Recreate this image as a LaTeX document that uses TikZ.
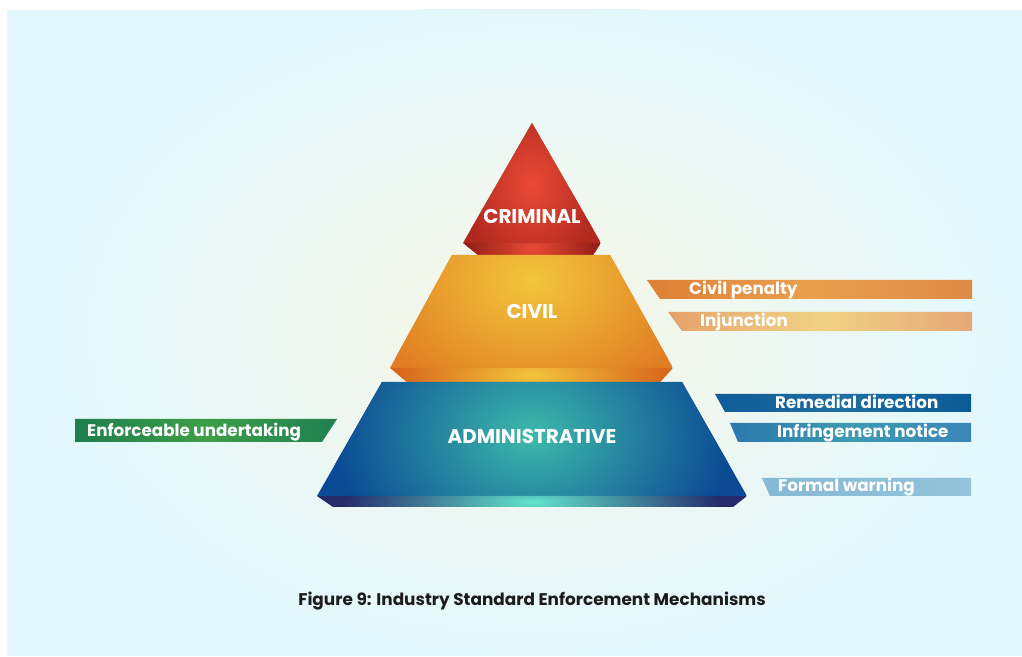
\documentclass[tikz,border=0pt]{standalone}
\usepackage{fontspec}
\setmainfont{Poppins}
\definecolor{bgcyan}{HTML}{E3F8FD}
\definecolor{bgcream}{HTML}{F8F6E6}
\definecolor{captext}{HTML}{1C1C1C}
\definecolor{crimedge}{HTML}{B0281E}
\definecolor{crimglow}{HTML}{EA4A36}
\definecolor{crimband}{HTML}{951F18}
\definecolor{civedge}{HTML}{E07C22}
\definecolor{civglow}{HTML}{F2C63C}
\definecolor{civband}{HTML}{D8661C}
\definecolor{admedge}{HTML}{0B4A94}
\definecolor{admglow}{HTML}{3DBAAA}
\definecolor{admband}{HTML}{252A6A}
\definecolor{admbandglow}{HTML}{62E6CC}
\begin{document}
\begin{tikzpicture}[x=0.03cm,y=-0.03cm,
    level/.style={font=\bfseries\fontsize{17}{19}\selectfont,text=white,anchor=base},
    tabtext/.style={font=\bfseries\fontsize{14.3}{16}\selectfont,text=white,anchor=base west,inner sep=0pt}
]
    \useasboundingbox (0,0) rectangle (1022,657);
    % background panel with soft glow
    \fill[bgcyan] (7,10) rectangle (1022,656);
    \begin{scope}
        \clip (7,10) rectangle (1022,656);
        \shade[inner color=bgcream,outer color=bgcyan] (532,330) ellipse [x radius=480,y radius=330];
    \end{scope}

    % Pyramid - top level
    \begin{scope}
        \clip (532,123) -- (601,243) -- (463,243) -- cycle;
        \fill[crimedge] (463,123) rectangle (601,243);
        \shade[inner color=crimglow,outer color=crimedge] (532,185) ellipse [x radius=70,y radius=90];
    \end{scope}
    \begin{scope}
        \clip (463,243) -- (601,243) -- (593,255) -- (478,255) -- cycle;
        \fill[crimband] (463,243) rectangle (601,255);
        \shade[inner color=crimglow,outer color=crimband] (532,249) ellipse [x radius=65,y radius=40];
    \end{scope}
    \node[level] (crim) at (532,224) {CRIMINAL};

    % Pyramid - middle level
    \begin{scope}
        \clip (452,255) -- (610,255) -- (673,368) -- (390,368) -- cycle;
        \fill[civedge] (390,255) rectangle (673,368);
        \shade[inner color=civglow,outer color=civedge] (532,280) ellipse [x radius=170,y radius=130];
    \end{scope}
    \begin{scope}
        \clip (390,368) -- (673,368) -- (660,382) -- (407,382) -- cycle;
        \fill[civband] (390,368) rectangle (673,382);
        \shade[inner color=civglow,outer color=civband] (532,375) ellipse [x radius=135,y radius=40];
    \end{scope}
    \node[level] (civ) at (532,319) {CIVIL};

    % Pyramid - bottom level
    \begin{scope}
        \clip (382,382) -- (682,382) -- (747,496) -- (317,496) -- cycle;
        \fill[admedge] (317,382) rectangle (747,496);
        \shade[inner color=admglow,outer color=admedge] (532,435) ellipse [x radius=200,y radius=150];
    \end{scope}
    \begin{scope}
        \clip (317,496) -- (747,496) -- (733,507) -- (333,507) -- cycle;
        \fill[admband] (317,496) rectangle (747,507);
        \shade[inner color=admbandglow,outer color=admband] (532,502) ellipse [x radius=190,y radius=40];
    \end{scope}
    \node[level] (adm) at (532,444) {ADMINISTRATIVE};

    % Civil tabs
    \shade[left color={rgb,255:red,222;green,127;blue,54},right color={rgb,255:red,222;green,138;blue,69},middle color={rgb,255:red,233;green,160;blue,78}]
        (647,280) -- (972,280) -- (972,299) -- (660,299) -- cycle;
    \node[tabtext] (pen) at (689,295) {Civil penalty};
    \shade[left color={rgb,255:red,229;green,162;blue,106},right color={rgb,255:red,229;green,168;blue,120},middle color={rgb,255:red,240;green,210;blue,131}]
        (668,312) -- (972,312) -- (972,331) -- (682,331) -- cycle;
    \node[tabtext] (inj) at (700,327) {Injunction};

    % Administrative tabs
    \shade[left color={rgb,255:red,14;green,92;blue,152},right color={rgb,255:red,10;green,91;blue,150},middle color={rgb,255:red,30;green,110;blue,165}]
        (715,394) -- (971,394) -- (971,412) -- (725,412) -- cycle;
    \node[tabtext] (rem) at (775,408.5) {Remedial direction};
    \shade[left color={rgb,255:red,43;green,120;blue,173},right color={rgb,255:red,58;green,133;blue,184},middle color={rgb,255:red,61;green,155;blue,176}]
        (730,423) -- (971,423) -- (971,442) -- (738,442) -- cycle;
    \node[tabtext] (inf) at (777,438) {Infringement notice};
    \shade[left color={rgb,255:red,134;green,185;blue,214},right color={rgb,255:red,147;green,195;blue,218}]
        (762,478) -- (971,478) -- (971,496) -- (770,496) -- cycle;
    \node[tabtext] (warn) at (778,492) {Formal warning};
    \shade[left color={rgb,255:red,30;green,126;blue,78},right color={rgb,255:red,30;green,128;blue,80},middle color={rgb,255:red,62;green,158;blue,72}]
        (75,419) -- (337,419) -- (322,442) -- (75,442) -- cycle;
    \node[tabtext] (und) at (87,437) {Enforceable undertaking};

    % Caption
    \node[font=\bfseries\fontsize{14.4}{16}\selectfont,text=captext,anchor=base] (cap) at (532,606) {Figure 9: Industry Standard Enforcement Mechanisms};
\end{tikzpicture}
\end{document}
